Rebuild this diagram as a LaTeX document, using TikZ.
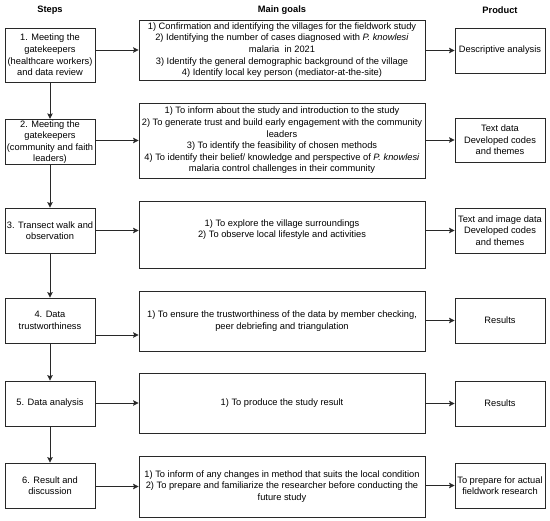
\documentclass[tikz,border=0pt]{standalone}
\usepackage{fontspec}
\setmainfont{Liberation Sans}
\usetikzlibrary{arrows.meta}

\definecolor{lineColor}{RGB}{40,40,40}

\tikzset{
  box/.style={draw=lineColor, line width=0.8pt, align=center, inner sep=1pt,
    font=\fontsize{9.3}{11.6}\selectfont},
  stepbox/.style={box, minimum width=90pt, minimum height=45pt},
  goalbox/.style={box, minimum width=286pt},
  prodbox/.style={box, minimum width=90pt, minimum height=45pt},
  head/.style={font=\bfseries\fontsize{9.3}{11.6}\selectfont},
  arr/.style={draw=lineColor, line width=0.8pt, -{Stealth[length=5.5pt,width=5.5pt,inset=1pt]}}
}

\begin{document}
\begin{tikzpicture}[x=1pt,y=-1pt]
  \useasboundingbox (0,0) rectangle (550,521);
  % Headers
  \node[head] (hsteps) at (50,10) {Steps};
  \node[head] (hgoals) at (282,10) {Main goals};
  \node[head] (hprod) at (500,10) {Product};
  % Steps
  \node[stepbox, minimum height=54pt] (s1) at (50,55) {1. Meeting the\\gatekeepers\\(healthcare workers)\\and data review};
  \node[stepbox, minimum height=42pt] (s2) at (50,142) {2. Meeting the\\gatekeepers\\(community and faith\\leaders)};
  \node[stepbox] (s3) at (50,230.5) {3. Transect walk and\\observation};
  \node[stepbox] (s4) at (50,320.5) {4. Data\\trustworthiness};
  \node[stepbox] (s5) at (50,403.5) {5. Data analysis};
  \node[stepbox] (s6) at (50,485.5) {6. Result and\\discussion};
  % Main goals
  \node[goalbox, minimum height=60pt] (g1) at (282,50) {1) Confirmation and identifying the villages for the fieldwork study\\2) Identifying the number of cases diagnosed with \textit{P. knowlesi}\\malaria\ \ in 2021\\3) Identify the general demographic background of the village\\4) Identify local key person (mediator-at-the-site)};
  \node[goalbox, minimum height=75pt] (g2) at (282,140.5) {1) To inform about the study and introduction to the study\\2) To generate trust and build early engagement with the community\\leaders\\3) To identify the feasibility of chosen methods\\4) To identify their belief/ knowledge and perspective of \textit{P. knowlesi}\\malaria control challenges in their community};
  \node[goalbox, minimum height=67pt, text depth=12pt] (g3) at (282,234.5) {1) To explore the village surroundings\\2) To observe local lifestyle and activities};
  \node[goalbox, minimum height=60pt] (g4) at (282,321) {1) To ensure the trustworthiness of the data by member checking,\\peer debriefing and triangulation};
  \node[goalbox, minimum height=60pt] (g5) at (282,403) {1) To produce the study result};
  \node[goalbox, minimum height=61pt] (g6) at (282,486.5) {1) To inform of any changes in method that suits the local condition\\2) To prepare and familiarize the researcher before conducting the\\future study};
  % Products
  \node[prodbox] (p1) at (500,50.5) {Descriptive analysis};
  \node[prodbox, minimum height=44pt] (p2) at (500,140) {Text data\\Developed codes\\and themes};
  \node[prodbox] (p3) at (500,230.5) {Text and image data\\Developed codes\\and themes};
  \node[prodbox] (p4) at (500,320.5) {Results};
  \node[prodbox] (p5) at (500,403.5) {Results};
  \node[prodbox] (p6) at (500,485.5) {To prepare for actual\\fieldwork research};
  % Steps down
  \foreach \a/\b in {s1/s2, s2/s3, s3/s4, s4/s5, s5/s6}
    \draw[arr] (\a.south) -- (\b.north);
  % Steps to goals
  \foreach \n in {1,2,5,6}
    \draw[arr] (s\n.east |- g\n.west) -- (g\n.west);
  \draw[arr] (s3.east) -- (s3.east -| g3.west);
  \draw[arr] ([yshift=-14.5pt]s4.east) -- ([yshift=-14.5pt]s4.east -| g4.west);
  % Goals to products
  \foreach \n in {1,...,6}
    \draw[arr] (g\n.east |- p\n.west) -- (p\n.west);
\end{tikzpicture}
\end{document}
